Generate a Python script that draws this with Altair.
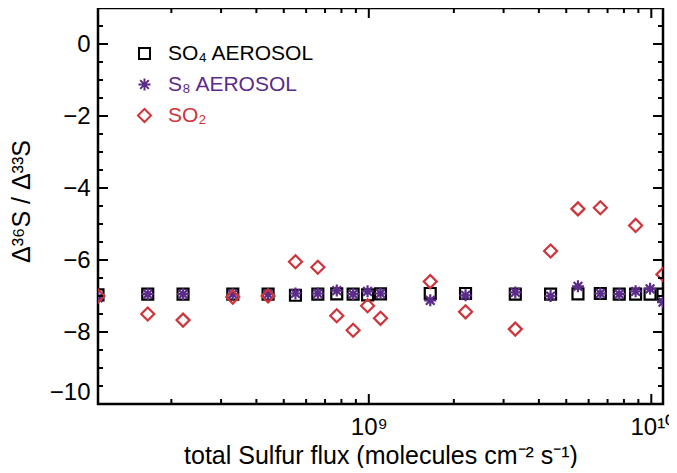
import altair as alt
import pandas as pd

# x positions: total sulfur flux (molecules cm^-2 s^-1)
flux = [1.1e8, 1.65e8, 2.2e8, 3.3e8, 4.4e8, 5.5e8, 6.6e8, 7.7e8, 8.8e8, 9.9e8,
        1.1e9, 1.65e9, 2.2e9, 3.3e9, 4.4e9, 5.5e9, 6.6e9, 7.7e9, 8.8e9, 9.9e9, 1.1e10]

so4_aerosol = [-6.97, -6.95, -6.95, -6.95, -6.95, -6.98, -6.95, -6.94, -6.95, -6.97,
               -6.94, -6.93, -6.93, -6.95, -6.95, -6.94, -6.93, -6.95, -6.95, -6.95, -6.95]
s8_aerosol = [-7.05, -6.95, -6.95, -6.95, -6.95, -6.93, -6.93, -6.85, -6.95, -6.87,
              -6.93, -7.12, -6.98, -6.90, -7.00, -6.73, -6.93, -6.95, -6.87, -6.80, -7.17]
so2 = [-7.00, -7.50, -7.67, -7.03, -7.00, -6.05, -6.20, -7.55, -7.95, -7.27,
       -7.62, -6.60, -7.44, -7.92, -5.75, -4.58, -4.55, None, -5.04, None, -6.40]

series_names = ["SO₄ AEROSOL", "S₈ AEROSOL", "SO₂"]
series_colors = ["#000000", "#5b2c8a", "#d0343a"]
ASTERISK = "M-1,0L1,0M0,-1L0,1M-0.72,-0.72L0.72,0.72M-0.72,0.72L0.72,-0.72"
series_shapes = ["square", ASTERISK, "diamond"]
series_sizes = [120, 170, 130]

y_major = [-10, -8, -6, -4, -2, 0]
y_minor = [-9.5, -9, -8.5, -7.5, -7, -6.5, -5.5, -5, -4.5, -3.5, -3, -2.5, -1.5, -1, -0.5, 0.5]
x_major = [1e9, 1e10]
x_minor = [2e8, 3e8, 4e8, 5e8, 6e8, 7e8, 8e8, 9e8, 2e9, 3e9, 4e9, 5e9, 6e9, 7e9, 8e9, 9e9]

rows = []
for name, vals in zip(series_names, [so4_aerosol, s8_aerosol, so2]):
    for f, v in zip(flux, vals):
        if v is not None:
            rows.append({"flux": f, "value": v, "series": name})
df = pd.DataFrame(rows)

W, H = 565, 396
FONT = "Liberation Sans"
xscale = alt.Scale(type="log", domain=[1.1e8, 1.1e10], nice=False)
yscale = alt.Scale(domain=[-10, 1], nice=False, zero=False)

xaxis = alt.Axis(values=x_major,
                 labelExpr="datum.value == 1e9 ? '10⁹' : '10¹⁰'",
                 title="total Sulfur flux (molecules cm⁻² s⁻¹)",
                 titleFontSize=25, titleFontWeight="normal", titleFont=FONT,
                 titleY=51, titleBaseline="middle",
                 labelFontSize=24, labelFont=FONT, labelPadding=11,
                 ticks=False, domain=False, grid=False, labelFlush=False,
                 labelColor="black", titleColor="black")
yaxis = alt.Axis(values=y_major,
                 labelExpr="replace(toString(datum.value), '-', '−')",
                 title="Δ³⁶S / Δ³³S",
                 titleFontSize=25, titleFontWeight="normal", titleFont=FONT,
                 titleAngle=-90, titleX=-77, titleY=193,
                 titleAlign="center", titleBaseline="middle",
                 labelFontSize=24, labelFont=FONT, labelPadding=8,
                 labelFlush=True, labelFlushOffset=0,
                 ticks=False, domain=False, grid=False,
                 labelColor="black", titleColor="black")

label_color_expr = " : ".join(
    f"datum.value == '{n}' ? '{c}'" for n, c in zip(series_names, series_colors)
) + " : 'black'"

legend = alt.Legend(orient="none", legendX=36, legendY=35, title=None,
                    labelFontSize=21, labelFont=FONT,
                    labelColor=alt.ExprRef(label_color_expr),
                    symbolSize=75, symbolStrokeWidth=2,
                    rowPadding=9, labelOffset=13, padding=0)

points = alt.Chart(df).mark_point(filled=False, strokeWidth=2.2, clip=True, opacity=1).encode(
    x=alt.X("flux:Q", scale=xscale, axis=xaxis),
    y=alt.Y("value:Q", scale=yscale, axis=yaxis),
    color=alt.Color("series:N", scale=alt.Scale(domain=series_names, range=series_colors),
                    legend=legend),
    shape=alt.Shape("series:N", scale=alt.Scale(domain=series_names, range=series_shapes),
                    legend=legend),
    size=alt.Size("series:N", scale=alt.Scale(domain=series_names, range=series_sizes),
                  legend=None),
)

def yticks(values, length):
    d = pd.DataFrame({"value": values})
    base = alt.Chart(d).mark_rule(color="black", strokeWidth=2)
    enc_y = alt.Y("value:Q", scale=yscale, axis=yaxis)
    left = base.encode(y=enc_y, x=alt.value(0), x2=alt.value(length))
    right = base.encode(y=enc_y, x=alt.value(W - length), x2=alt.value(W))
    return [left, right]

def xticks(values, length):
    d = pd.DataFrame({"flux": values})
    base = alt.Chart(d).mark_rule(color="black", strokeWidth=2)
    enc_x = alt.X("flux:Q", scale=xscale, axis=xaxis)
    bottom = base.encode(x=enc_x, y=alt.value(H - length), y2=alt.value(H))
    top = base.encode(x=enc_x, y=alt.value(0), y2=alt.value(length))
    return [bottom, top]

layers = [points] + yticks(y_major, 10) + yticks(y_minor, 5) + xticks(x_major, 10) + xticks(x_minor, 5)

chart = alt.layer(*layers).properties(
    width=W, height=H,
    autosize=alt.AutoSizeParams(type="none"),
    padding={"left": 90, "top": 0, "right": 6, "bottom": 64},
).configure(background="white").configure_view(stroke="black", strokeWidth=2.5)

chart.save("out.html", embed_options={"renderer": "svg", "actions": False})
